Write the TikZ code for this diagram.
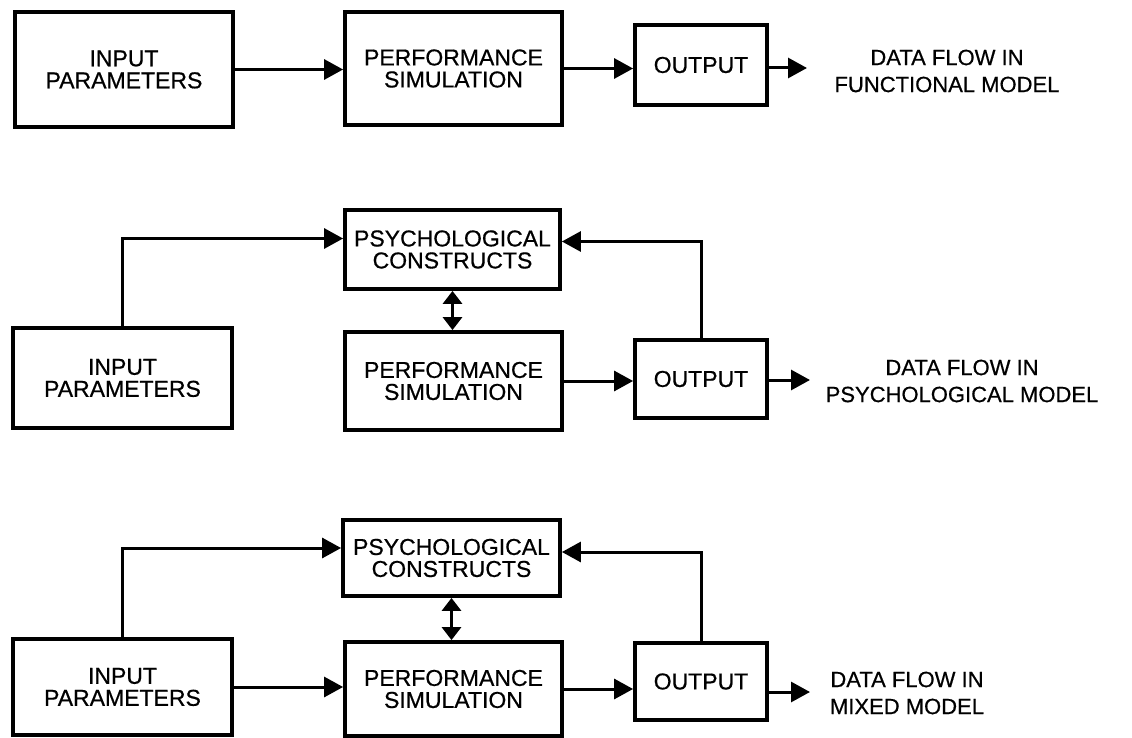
\documentclass[tikz,border=0pt]{standalone}
\usepackage{fontspec}
\setmainfont[FakeBold=0.6]{Liberation Sans}
\usetikzlibrary{arrows.meta}
\usetikzlibrary{calc}

\begin{document}
\begin{tikzpicture}[x={(1pt,0)},y={(0,-1pt)},
    box/.style={draw, line width=3.8pt, align=center, inner sep=0pt, font=\fontsize{23}{22}\selectfont},
    flow/.style={line width=3pt, -{Triangle[length=19pt,width=20pt]}},
    both/.style={line width=3pt, {Triangle[length=13pt,width=19pt]}-{Triangle[length=13pt,width=19pt]}},
    caption/.style={align=center, inner sep=0pt, font=\fontsize{22}{27}\selectfont}]
        \useasboundingbox (0,0) rectangle (1132,738);

        \node[box, minimum width=218pt, minimum height=115pt](in1) at (124,69.5){INPUT\\PARAMETERS};
        \node[box, minimum width=217pt, minimum height=113pt](perf1) at (453.5,68.5){PERFORMANCE\\SIMULATION};
        \node[box, minimum width=132pt, minimum height=80pt](out1) at (701,65){OUTPUT};
        \node[caption](lab1) at (947,71){DATA FLOW IN\\FUNCTIONAL MODEL};
        \coordinate (e1) at (807,68);

        \node[box, minimum width=215pt, minimum height=79pt](psych2) at (452.5,249.5){PSYCHOLOGICAL\\CONSTRUCTS};
        \node[box, minimum width=219pt, minimum height=100pt](in2) at (122.5,378){INPUT\\PARAMETERS};
        \node[box, minimum width=217pt, minimum height=98pt](perf2) at (453.5,381){PERFORMANCE\\SIMULATION};
        \node[box, minimum width=132pt, minimum height=78pt](out2) at (701,379){OUTPUT};
        \node[caption](lab2) at (962,381){DATA FLOW IN\\PSYCHOLOGICAL MODEL};
        \coordinate (e2) at (810,380);

        \node[box, minimum width=217pt, minimum height=76pt](psych3) at (451.5,558){PSYCHOLOGICAL\\CONSTRUCTS};
        \node[box, minimum width=219pt, minimum height=96pt](in3) at (122.5,687){INPUT\\PARAMETERS};
        \node[box, minimum width=217pt, minimum height=94pt](perf3) at (453.5,689){PERFORMANCE\\SIMULATION};
        \node[box, minimum width=132pt, minimum height=77pt](out3) at (701,681.5){OUTPUT};
        \node[caption](lab3) at (907,693){DATA FLOW IN\\MIXED MODEL};
        \coordinate (e3) at (810,692);

        \draw[flow] (in1.east) -- (in1.east -| perf1.west);
        \draw[flow] (perf1.east) -- (perf1.east -| out1.west);
        \draw[flow] (out1.east |- e1) -- (e1);

        \draw[flow] (in2.north) |- ([yshift=11pt]psych2.west);
        \draw[flow] (out2.north) |- ([yshift=8pt]psych2.east);
        \draw[both] (psych2.south) -- (psych2.south |- perf2.north);
        \draw[flow] (perf2.east) -- (perf2.east -| out2.west);
        \draw[flow] (out2.east |- e2) -- (e2);

        \draw[flow] (in3.north) |- ([yshift=10pt]psych3.west);
        \draw[flow] (out3.north) |- ([yshift=6pt]psych3.east);
        \draw[both] (psych3.south) -- (psych3.south |- perf3.north);
        \draw[flow] (in3.east) -- (in3.east -| perf3.west);
        \draw[flow] (perf3.east) -- (perf3.east -| out3.west);
        \draw[flow] (out3.east |- e3) -- (e3);

      \end{tikzpicture}
\end{document}
